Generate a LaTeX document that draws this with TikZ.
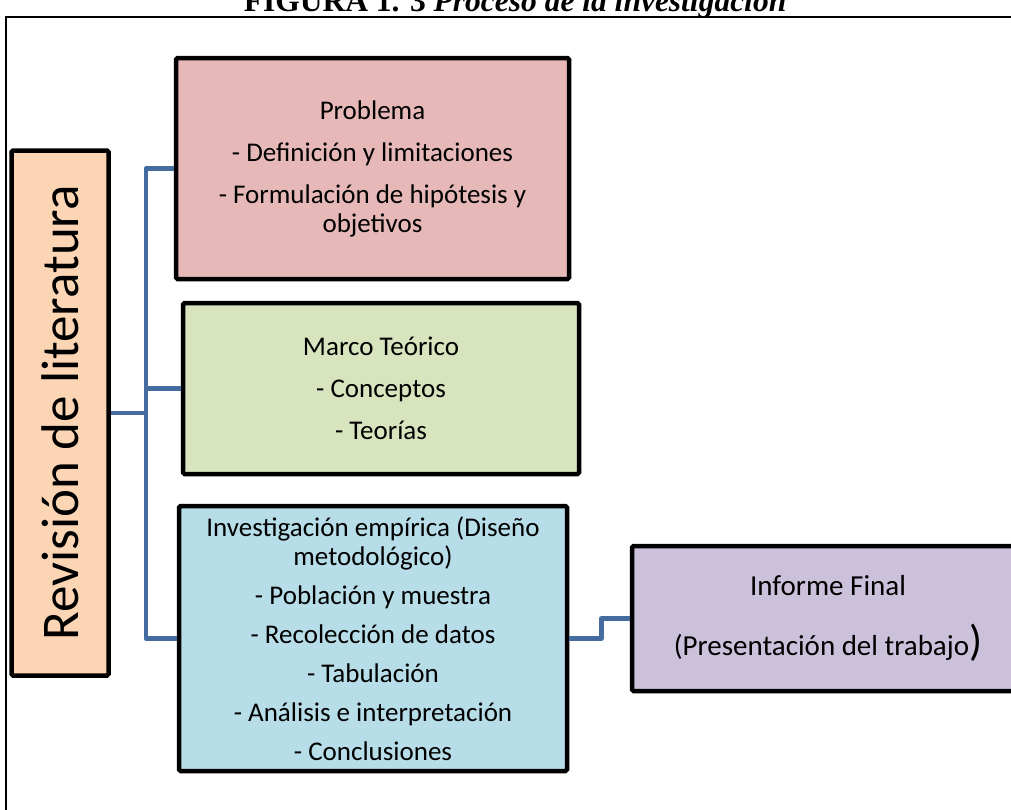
\documentclass[tikz,border=0pt]{standalone}
\usepackage{fontspec}
\setmainfont{Carlito}
\newfontfamily\titlefont{Liberation Serif}
\usetikzlibrary{calc}
\definecolor{peach}{HTML}{FCD5B5}
\definecolor{rosa}{HTML}{E6B9B8}
\definecolor{verde}{HTML}{D7E4BD}
\definecolor{celeste}{HTML}{B7DDE8}
\definecolor{lila}{HTML}{CCC1DA}
\definecolor{azul}{RGB}{68,108,158}
\tikzset{
	caja/.style={draw=black, line width=4.5pt, rounded corners=1.5pt, inner sep=0pt},
	texto/.style={align=center, font=\fontsize{27}{29}\selectfont},
	link/.style={draw=azul, line width=4.5pt, line join=round}
}

\begin{document}
\begin{tikzpicture}[x=1pt,y=-1pt]
			\useasboundingbox (0,0) rectangle (1011,809);
			\clip (0,0) rectangle (1011,809);
			\fill[white] (0,0) rectangle (1011,809);
			\node[anchor=base, font=\titlefont\bfseries\fontsize{31.5}{31.5}\selectfont] (titulo) at (515,11) {FIGURA 1. 3 \textit{Proceso de la investigación}};
			\draw[line width=1.5pt] (6,830) |- (1030,17);
			% cajas
			\node[caja, fill=peach, minimum width=97pt, minimum height=525pt] (rev) at (60,413) {};
			\node[rotate=90, font=\fontsize{53}{53}\selectfont] (revtxt) at (rev) {Revisión de literatura};
			\node[caja, fill=rosa, minimum width=393pt, minimum height=221pt, texto] (prob) at (372.5,168.5) {Problema\\[13pt] - Definición y limitaciones\\[13pt] - Formulación de hipótesis y\\ objetivos};
			\node[caja, fill=verde, minimum width=396pt, minimum height=171pt, texto] (marco) at (381,388.5) {Marco Teórico\\[13pt] - Conceptos\\[13pt] - Teorías};
			\node[caja, fill=celeste, minimum width=388pt, minimum height=265pt, texto] (inv) at (373,638.5) {Investigación empírica (Diseño\\ metodológico)\\[10pt] - Población y muestra\\[10pt] - Recolección de datos\\[10pt] - Tabulación\\[10pt] - Análisis e interpretación\\[10pt] - Conclusiones};
			\node[caja, fill=lila, minimum width=392pt, minimum height=145pt, align=center, font=\fontsize{29}{30}\selectfont] (inf) at (828,618.5) {Informe Final\\[28pt] (Presentación del trabajo{\fontsize{43}{30}\selectfont)}};
			% conectores
			\foreach \b in {prob,marco,inv} \draw[link] (rev.east) -- ++(35,0) |- (\b.west);
			\draw[link] (inv.east) -- ++(32,0) |- (inf.west);
		\end{tikzpicture}
\end{document}
